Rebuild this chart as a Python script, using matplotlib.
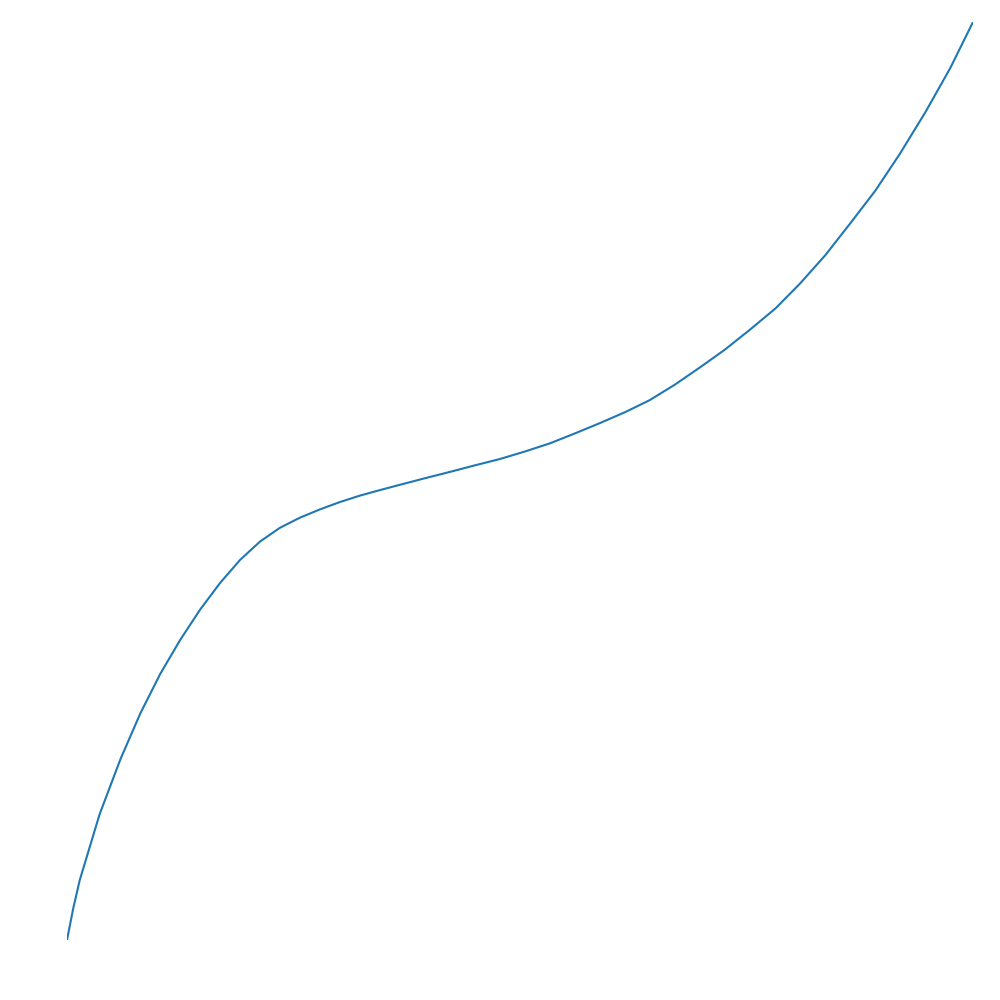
import matplotlib
matplotlib.use("Agg")
import matplotlib.pyplot as plt

# values
x = [0.00, 0.07, 0.14, 0.36, 0.59, 0.81, 1.03, 1.25, 1.47, 1.69,
     1.91, 2.13, 2.35, 2.57, 2.79, 3.01, 3.23, 3.45, 3.68, 3.95,
     4.23, 4.50, 4.78, 5.05, 5.33, 5.61, 5.88, 6.16, 6.43, 6.71,
     6.99, 7.26, 7.54, 7.82, 8.09, 8.37, 8.64, 8.92, 9.19, 9.47,
     9.75, 10.00]
y = [0.00, 0.35, 0.65, 1.37, 1.97, 2.47, 2.90, 3.27, 3.60, 3.89,
     4.14, 4.34, 4.49, 4.60, 4.69, 4.77, 4.84, 4.90, 4.96, 5.03,
     5.10, 5.17, 5.24, 5.32, 5.41, 5.52, 5.63, 5.75, 5.88, 6.05,
     6.24, 6.43, 6.65, 6.88, 7.15, 7.46, 7.80, 8.16, 8.56, 9.01,
     9.50, 10.00]

fig = plt.figure(figsize=(10, 10), dpi=100)
ax = fig.add_axes([0.067, 0.060, 0.906, 0.918])

ax.plot(x, y, color="#1f77b4", linewidth=1.5)

ax.set_xlim(0, 10)
ax.set_ylim(0, 10)
ax.axis("off")

fig.savefig("out.png")
